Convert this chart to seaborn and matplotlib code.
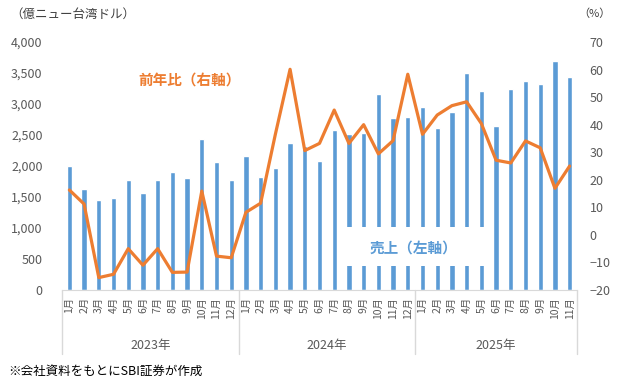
import numpy as np
import pandas as pd
import matplotlib
matplotlib.use("Agg")
import matplotlib.pyplot as plt
from matplotlib.patches import Rectangle
import seaborn as sns

# monthly sales (100m NTD) and year-on-year change (%)
years = ["2023年", "2024年", "2025年"]
months_per_year = [12, 12, 11]
sales = [2000, 1630, 1455, 1480, 1770, 1570, 1775, 1900, 1800, 2435, 2065, 1770,
         2160, 1830, 1960, 2365, 2330, 2080, 2580, 2515, 2530, 3155, 2775, 2795,
         2945, 2610, 2870, 3505, 3215, 2645, 3245, 3370, 3315, 3690, 3440]
yoy = [16.3, 11.2, -15.5, -14.3, -5.0, -11.0, -5.0, -13.6, -13.5, 15.9, -7.7, -8.3,
       8.2, 11.5, 36.5, 60.1, 30.6, 33.2, 45.3, 33.2, 40.0, 29.4, 34.2, 58.3,
       36.5, 43.5, 46.9, 48.3, 40.4, 27.1, 26.1, 34.1, 31.6, 16.9, 25.0]
month_labels = [f"{m}月" for n in months_per_year for m in range(1, n + 1)]

BLUE = "#5B9BD5"
ORANGE = "#ED7D31"
GREY = "#595959"
LINE = "#D9D9D9"

sns.set_style("white")
plt.rcParams["font.family"] = ["Noto Sans CJK JP", "DejaVu Sans"]

df = pd.DataFrame({"idx": np.arange(len(sales)), "sales": sales, "yoy": yoy})

fig = plt.figure(figsize=(6.24, 3.84), dpi=100)
ax = fig.add_axes([62 / 624, 1 - 290 / 384, 515 / 624, 248 / 384])

sns.barplot(data=df, x="idx", y="sales", color=BLUE, saturation=1,
            width=0.36, ax=ax, zorder=2)
ax.set_xlim(-0.5, len(sales) - 0.5)
ax.set_ylim(0, 4000)
ax.set_yticks(np.arange(0, 4001, 500))
ax.set_yticklabels([f"{v:,}" for v in range(0, 4001, 500)])
ax.set_xticks(np.arange(len(sales)))
ax.set_xticklabels(month_labels, rotation=90, fontsize=7.5, color=GREY)
ax.set_xlabel("")
ax.set_ylabel("")
ax.tick_params(axis="y", length=0, pad=14, labelsize=9, labelcolor=GREY)
ax.tick_params(axis="x", length=0, pad=5)
for s in ["top", "right", "left"]:
    ax.spines[s].set_visible(False)
ax.spines["bottom"].set_color(LINE)

# white box behind the sales label
ax.add_patch(Rectangle((0.544, 0.097), 0.287, 0.157, transform=ax.transAxes,
                       facecolor="white", edgecolor="none", zorder=3))
ax.text(0.598, 0.173, "売上（左軸）", transform=ax.transAxes, color=BLUE,
        fontsize=10.5, fontweight="bold", va="center", ha="left", zorder=4)

# year groups under the month labels
trans = ax.get_xaxis_transform()
start = 0
for yr, n in zip(years, months_per_year):
    ax.text(start + n / 2 - 0.5, -0.222, yr, transform=trans, ha="center",
            va="center", fontsize=9, color=GREY)
    start += n
for b in np.cumsum([0] + months_per_year) - 0.5:
    ax.plot([b, b], [0, -0.258], transform=trans, color=LINE, lw=1,
            clip_on=False)

ax2 = ax.twinx()
sns.lineplot(data=df, x="idx", y="yoy", color=ORANGE, linewidth=2.3, ax=ax2)
ax2.set_ylim(-20, 70)
ax2.set_yticks(np.arange(-20, 71, 10))
ax2.set_ylabel("")
ax2.tick_params(axis="y", length=0, pad=9, labelsize=9, labelcolor=GREY)
for s in ["top", "right", "left", "bottom"]:
    ax2.spines[s].set_visible(False)

ax.text(0.148, 0.847, "前年比（右軸）", transform=ax.transAxes, color=ORANGE,
        fontsize=10.5, fontweight="bold", va="center", ha="left")

fig.text(10 / 624, 1 - 14 / 384, "（億ニュー台湾ドル）", fontsize=9, color="#404040",
         va="center")
fig.text(578 / 624, 1 - 14 / 384, "（%）", fontsize=8, color="#404040",
         va="center")
fig.text(8 / 624, 1 - 371 / 384, "※会社資料をもとにSBI証券が作成", fontsize=9,
         color="black", va="center")

fig.savefig("out.png", dpi=100)
